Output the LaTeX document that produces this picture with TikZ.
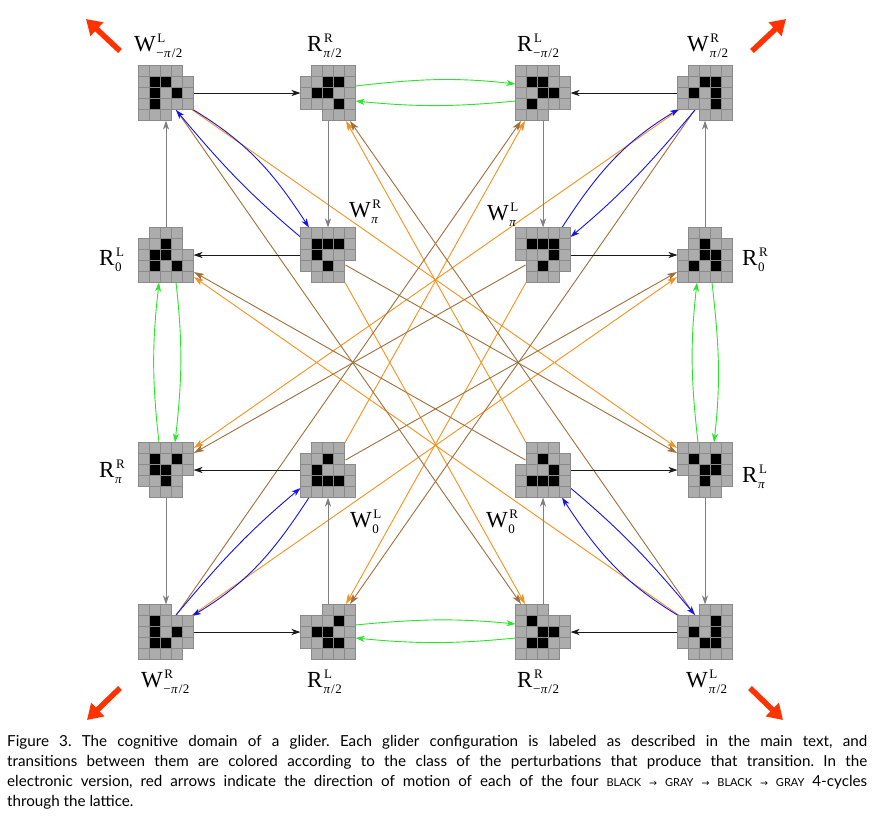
\documentclass[tikz,border=0pt]{standalone}
\usepackage{fontspec}
\usepackage{amsmath}
\setmainfont{Liberation Serif}
\newfontfamily\capfont{Lato}
\newfontfamily\symfont{DejaVu Sans}
\usetikzlibrary{arrows.meta,calc}
\definecolor{cellfill}{RGB}{172,172,172}
\definecolor{celledge}{RGB}{138,138,138}
\definecolor{arrgray}{RGB}{128,128,128}
\definecolor{arrblack}{RGB}{25,25,25}
\definecolor{grn}{RGB}{40,230,40}
\definecolor{blu}{RGB}{20,20,235}
\definecolor{org}{RGB}{247,145,30}
\definecolor{brn}{RGB}{160,112,60}
\definecolor{redarrow}{RGB}{255,50,0}

\newcommand{\gcells}[2]{%
  \foreach \rowi/\coli in {#2} {
    \foreach \drow in {-1,0,1} {
      \foreach \dcol in {-1,0,1} {
        \path[cellg] ($(#1.north west)+({11*(\coli+\dcol)},{11*(\rowi+\drow)})$) rectangle +(11,11);
      }
    }
  }
  \foreach \rowi/\coli in {#2} {
    \path[cellb] ($(#1.north west)+({11*\coli},{11*\rowi})$) rectangle +(11,11);
  }
}
\newcommand{\glab}[3]{#1\rlap{\raisebox{8.7pt}{\fontsize{13}{13.5}\selectfont\hspace{1.5pt}#2}}\raisebox{-6.6pt}{\fontsize{13}{13.5}\selectfont\hspace{0.5pt}#3}}
\newcommand{\mpi}{\kern0.5pt\textit{π}\kern0.8pt/\kern0.5pt2}
\newcommand{\smc}[1]{{\fontsize{11}{12}\selectfont #1}}
\newcommand{\sar}{{\symfont\fontsize{9.5}{10}\selectfont →}}

\begin{document}
\frenchspacing
\begin{tikzpicture}[x=1pt,y=-1pt,
 cellg/.style={fill=cellfill, draw=celledge, line width=0.7pt},
 cellb/.style={fill=black, draw=celledge, line width=0.7pt},
 gnode/.style={minimum size=55pt, inner sep=0pt, outer sep=0pt},
 lbl/.style={anchor=base west, inner sep=0pt, font=\fontsize{23}{26}\selectfont},
 blkarr/.style={draw=arrblack, line width=0.9pt, -{Stealth[length=9pt,width=6pt,inset=2.5pt]}},
 grayarr/.style={draw=arrgray, line width=1pt, -{Stealth[length=9pt,width=6pt,inset=2.5pt]}},
 grnarr/.style={draw=grn, line width=0.9pt, -{Stealth[length=9pt,width=6pt,inset=2.5pt]}},
 bluarr/.style={draw=blu, line width=0.9pt, -{Stealth[length=9pt,width=6pt,inset=2.5pt]}},
 orgarr/.style={draw=org, line width=0.9pt, -{Stealth[length=10pt,width=6.5pt,inset=2.5pt]}},
 brnarr/.style={draw=brn, line width=0.9pt, -{Stealth[length=10pt,width=6.5pt,inset=2.5pt]}},
 redarr/.style={draw=redarrow, line width=5.5pt, -{Triangle[length=15pt,width=18pt]}},
 capline/.style={anchor=base west, inner sep=0pt, font=\capfont\fontsize{15.2}{20}\selectfont}
]
\fill[white] (0,0) rectangle (875,817);
\useasboundingbox (0,0) rectangle (875,817);

% glider nodes
\node[gnode] (A1) at (166,93) {};
\node[gnode] (A2) at (328,93) {};
\node[gnode] (A3) at (543,93) {};
\node[gnode] (A4) at (705,93) {};
\node[gnode] (B1) at (166,255) {};
\node[gnode] (B2) at (328,255) {};
\node[gnode] (B3) at (543,255) {};
\node[gnode] (B4) at (705,255) {};
\node[gnode] (C1) at (166,470) {};
\node[gnode] (C2) at (328,470) {};
\node[gnode] (C3) at (543,470) {};
\node[gnode] (C4) at (705,470) {};
\node[gnode] (D1) at (166,632) {};
\node[gnode] (D2) at (328,632) {};
\node[gnode] (D3) at (543,632) {};
\node[gnode] (D4) at (705,632) {};

% orange
\draw[orgarr] ($(A1)+(25,16)$) -- ($(C4)+(-28,-22)$);
\draw[orgarr] ($(A4)+(-25,16)$) -- ($(C1)+(28,-22)$);
\draw[orgarr] ($(D1)+(25,-16)$) -- ($(B4)+(-28,22)$);
\draw[orgarr] ($(D4)+(-25,-16)$) -- ($(B1)+(28,22)$);
\draw[orgarr] ($(B2)+(17,27.5)$) -- ($(D3)+(-18,-28)$);
\draw[orgarr] ($(B3)+(-17,27.5)$) -- ($(D2)+(18,-28)$);
\draw[orgarr] ($(C2)+(17,-27.5)$) -- ($(A3)+(-18,28)$);
\draw[orgarr] ($(C3)+(-17,-27.5)$) -- ($(A2)+(18,28)$);
% brown
\draw[brnarr] ($(A1)+(10,16.5)$) -- ($(D3)+(-22,-28)$);
\draw[brnarr] ($(A4)+(-10,16.5)$) -- ($(D2)+(22,-28)$);
\draw[brnarr] ($(D1)+(10,-16.5)$) -- ($(A3)+(-22,28)$);
\draw[brnarr] ($(D4)+(-10,-16.5)$) -- ($(A2)+(22,28)$);
\draw[brnarr] ($(B2)+(17.5,10)$) -- ($(C4)+(-28,-17)$);
\draw[brnarr] ($(B3)+(-17.5,10)$) -- ($(C1)+(28,-17)$);
\draw[brnarr] ($(C2)+(17.5,-10)$) -- ($(B4)+(-28,17)$);
\draw[brnarr] ($(C3)+(-17.5,-10)$) -- ($(B1)+(28,17)$);

% blue
\draw[bluarr] ($(A1)+(26,16)$) .. controls +(55.7,33.5) and +(-35.4,-54.5) .. ($(B2)+(-19,-27.5)$);
\draw[bluarr] ($(B2)+(-27.5,-18)$) .. controls +(-52.9,-44.4) and +(44.4,52.9) .. ($(A1)+(10,17)$);
\draw[bluarr] ($(B3)+(19,-27.5)$) .. controls +(35.4,-54.5) and +(-55.7,33.5) .. ($(A4)+(-26,16)$);
\draw[bluarr] ($(A4)+(-10,17)$) .. controls +(-44.4,52.9) and +(52.9,-44.4) .. ($(B3)+(27.5,-18)$);
\draw[bluarr] ($(C2)+(-19,27.5)$) .. controls +(-35.4,54.5) and +(55.7,-33.5) .. ($(D1)+(26,-16)$);
\draw[bluarr] ($(D1)+(10,-17)$) .. controls +(44.4,-52.9) and +(-52.9,44.4) .. ($(C2)+(-27.5,18)$);
\draw[bluarr] ($(D4)+(-26,-16)$) .. controls +(-55.7,-33.5) and +(35.4,54.5) .. ($(C3)+(19,27.5)$);
\draw[bluarr] ($(C3)+(27.5,18)$) .. controls +(52.9,44.4) and +(-44.4,-52.9) .. ($(D4)+(-10,-17)$);

% green
\draw[grnarr] ($(A2)+(27.5,-7)$) .. controls +(61,-7) and +(-61,-7) .. ($(A3)+(-27.5,-9)$);
\draw[grnarr] ($(A3)+(-27.5,8)$) .. controls +(-61,6) and +(61,6) .. ($(A2)+(27.5,8)$);
\draw[grnarr] ($(B1)+(10,27.5)$) .. controls +(7,62) and +(7,-62) .. ($(C1)+(9,-27.5)$);
\draw[grnarr] ($(C1)+(-7,-27.5)$) .. controls +(-7,-62) and +(-7,62) .. ($(B1)+(-7,27.5)$);
\draw[grnarr] ($(C4)+(-7,-27.5)$) .. controls +(-7,-62) and +(-7,62) .. ($(B4)+(-8,27.5)$);
\draw[grnarr] ($(B4)+(7,27.5)$) .. controls +(7,62) and +(7,-62) .. ($(C4)+(9,-27.5)$);
\draw[grnarr] ($(D2)+(27.5,-7)$) .. controls +(61,-6) and +(-61,-6) .. ($(D3)+(-27.5,-8)$);
\draw[grnarr] ($(D3)+(-27.5,6)$) .. controls +(-61,6) and +(61,6) .. ($(D2)+(27.5,6)$);

% black
\draw[blkarr] (A1.east) -- (A2.west);
\draw[blkarr] (A4.west) -- (A3.east);
\draw[blkarr] (B2.west) -- (B1.east);
\draw[blkarr] (B3.east) -- (B4.west);
\draw[blkarr] (C2.west) -- (C1.east);
\draw[blkarr] (C3.east) -- (C4.west);
\draw[blkarr] (D1.east) -- (D2.west);
\draw[blkarr] (D4.west) -- (D3.east);
% gray
\draw[grayarr] (A2.south) -- (B2.north);
\draw[grayarr] (B1.north) -- (A1.south);
\draw[grayarr] (A3.south) -- (B3.north);
\draw[grayarr] (B4.north) -- (A4.south);
\draw[grayarr] (C1.south) -- (D1.north);
\draw[grayarr] (D2.north) -- (C2.south);
\draw[grayarr] (D3.north) -- (C3.south);
\draw[grayarr] (C4.south) -- (D4.north);

% glider cells
\gcells{A1}{1/1,1/2,2/1,2/3,3/1}
\gcells{A2}{1/2,1/3,2/1,2/2,3/3}
\gcells{A3}{1/1,1/2,2/2,2/3,3/1}
\gcells{A4}{1/2,1/3,2/1,2/3,3/3}
\gcells{B1}{1/2,2/1,2/2,3/1,3/3}
\gcells{B2}{1/1,1/2,1/3,2/1,3/2}
\gcells{B3}{1/1,1/2,1/3,2/3,3/2}
\gcells{B4}{1/2,2/2,2/3,3/1,3/3}
\gcells{C1}{1/1,1/3,2/1,2/2,3/2}
\gcells{C2}{1/2,2/1,3/1,3/2,3/3}
\gcells{C3}{1/2,2/3,3/1,3/2,3/3}
\gcells{C4}{1/1,1/3,2/2,2/3,3/2}
\gcells{D1}{1/1,2/1,2/3,3/1,3/2}
\gcells{D2}{1/3,2/1,2/2,3/2,3/3}
\gcells{D3}{1/1,2/2,2/3,3/1,3/2}
\gcells{D4}{1/3,2/1,2/3,3/2,3/3}

% labels
\node[lbl] (lA1) at (134,51) {\glab{W}{L}{−\mpi}};
\node[lbl] (lA2) at (307,51) {\glab{R}{R}{\mpi}};
\node[lbl] (lA3) at (517,51) {\glab{R}{L}{−\mpi}};
\node[lbl] (lA4) at (687,51) {\glab{W}{R}{\mpi}};
\node[lbl] (lB1) at (99,265) {\glab{R}{L}{0}};
\node[lbl] (lB2) at (349,217) {\glab{W}{R}{\textit{π}}};
\node[lbl] (lB3) at (487,220) {\glab{W}{L}{\textit{π}}};
\node[lbl] (lB4) at (742,265) {\glab{R}{R}{0}};
\node[lbl] (lC1) at (99,477) {\glab{R}{R}{\textit{π}}};
\node[lbl] (lC2) at (350,527) {\glab{W}{L}{0}};
\node[lbl] (lC3) at (486,527) {\glab{W}{R}{0}};
\node[lbl] (lC4) at (742,482) {\glab{R}{L}{\textit{π}}};
\node[lbl] (lD1) at (141,687) {\glab{W}{R}{−\mpi}};
\node[lbl] (lD2) at (307,687) {\glab{R}{L}{\mpi}};
\node[lbl] (lD3) at (517,687) {\glab{R}{R}{−\mpi}};
\node[lbl] (lD4) at (686,687) {\glab{W}{L}{\mpi}};

% red arrows
\coordinate (rTLa) at (120,51); \coordinate (rTLb) at (86,19);
\coordinate (rTRa) at (752,51); \coordinate (rTRb) at (786,19);
\coordinate (rBLa) at (120,688); \coordinate (rBLb) at (87,720);
\coordinate (rBRa) at (750,688); \coordinate (rBRb) at (783,720);
\draw[redarr] (rTLa) -- (rTLb);
\draw[redarr] (rTRa) -- (rTRb);
\draw[redarr] (rBLa) -- (rBLb);
\draw[redarr] (rBRa) -- (rBRb);

% caption
\node[capline] (cap1) at (7,746) {\hbox to 860pt{Figure 3. The cognitive domain of a glider. Each glider configuration is labeled as described in the main text, and}};
\node[capline] (cap2) at (7,766) {\hbox to 860pt{transitions between them are colored according to the class of the perturbations that produce that transition. In the}};
\node[capline] (cap3) at (7,786) {\hbox to 860pt{electronic version, red arrows indicate the direction of motion of each of the four \smc{BLACK} \sar{} \smc{GRAY} \sar{} \smc{BLACK} \sar{} \smc{GRAY} 4-cycles}};
\node[capline] (cap4) at (7,806) {through the lattice.};
\end{tikzpicture}
\end{document}
